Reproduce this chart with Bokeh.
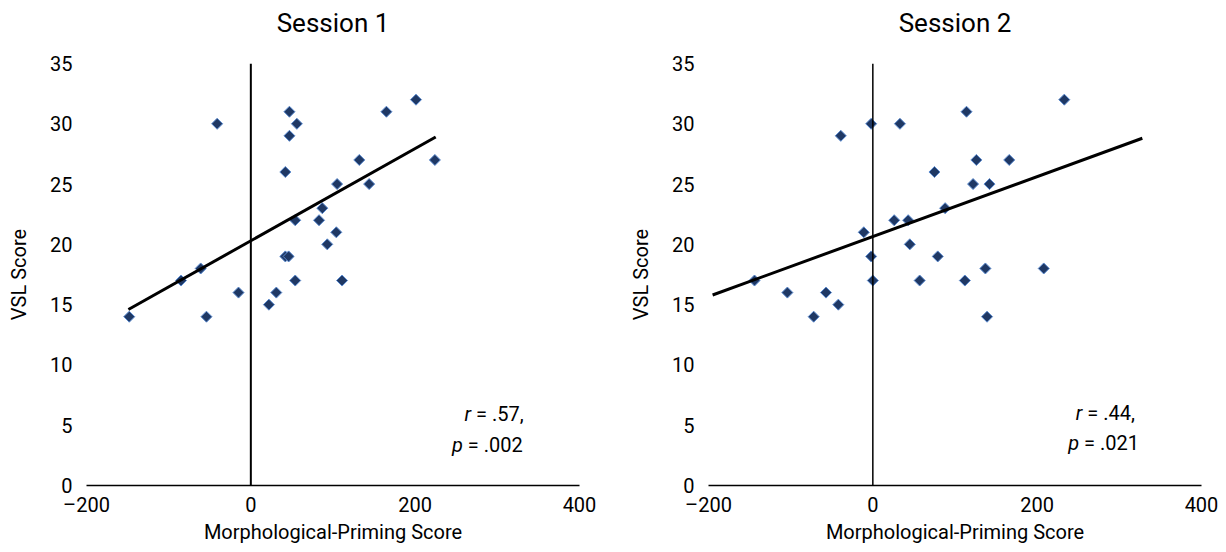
from bokeh.plotting import figure
from bokeh.layouts import row
from bokeh.models import Range1d, FixedTicker, Span, LinearAxis
from bokeh.core.properties import value
from bokeh.embed import file_html
from bokeh.resources import INLINE

FONT = "Roboto"

# Session 1 data
s1_x = [-148, -54, -85, -61, -41, -15, 22, 31, 42, 47, 56, 47, 54, 42, 46, 54, 83, 87, 93, 104, 105, 111, 132, 144, 165, 201, 224]
s1_y = [14, 14, 17, 18, 30, 16, 15, 16, 26, 31, 30, 29, 22, 19, 19, 17, 22, 23, 20, 21, 25, 17, 27, 25, 31, 32, 27]
s1_trend_x = [-149, 225]
s1_trend_y = [14.6, 28.9]
s1_stats = ("r", "\u00a0= .57,", "p", "\u00a0= .002")

# Session 2 data
s2_x = [-144, -104, -72, -57, -42, -39, -11, -2, -2, 0, 33, 26, 43, 45, 57, 75, 79, 88, 112, 114, 122, 126, 137, 139, 142, 166, 208, 233]
s2_y = [17, 16, 14, 16, 15, 29, 21, 30, 19, 17, 30, 22, 22, 20, 17, 26, 19, 23, 17, 31, 25, 27, 18, 14, 25, 27, 18, 32]
s2_trend_x = [-195, 328]
s2_trend_y = [15.8, 28.8]
s2_stats = ("r", "\u00a0= .44,", "p", "\u00a0= .021")

x_ticks = [-200, 0, 200, 400]
y_ticks = [0, 5, 10, 15, 20, 25, 30, 35]
x_tick_labels = {-200: "\u2013200", 0: "0", 200: "200", 400: "400"}


def make(title, xs, ys, tx, ty, stats, stat_pos, left_border, right_border, vline_w):
    p = figure(frame_width=493, frame_height=422, output_backend="svg", toolbar_location=None,
               x_range=Range1d(-200, 400), y_range=Range1d(0, 35),
               min_border_left=left_border, min_border_right=right_border,
               min_border_top=63, min_border_bottom=52)
    p.outline_line_color = None
    p.xgrid.grid_line_color = None
    p.ygrid.grid_line_color = None

    xa = p.xaxis[0]
    xa.ticker = FixedTicker(ticks=x_ticks)
    xa.major_label_overrides = x_tick_labels
    xa.major_tick_line_color = None
    xa.major_tick_out = 0
    xa.major_tick_in = 0
    xa.minor_tick_line_color = None
    xa.minor_tick_out = 0
    xa.axis_line_color = "black"
    xa.axis_line_width = 1.5
    xa.major_label_standoff = 7
    xa.major_label_text_font = FONT
    xa.major_label_text_font_size = "20px"
    xa.major_label_text_color = "black"
    xa.axis_label = "Morphological-Priming Score"
    xa.axis_label_text_font = FONT
    xa.axis_label_text_font_size = "20px"
    xa.axis_label_text_font_style = "normal"
    xa.axis_label_text_color = "black"
    xa.axis_label_standoff = 0

    ya = p.yaxis[0]
    ya.ticker = FixedTicker(ticks=y_ticks)
    ya.major_tick_line_color = None
    ya.major_tick_out = 0
    ya.major_tick_in = 0
    ya.minor_tick_line_color = None
    ya.minor_tick_out = 0
    ya.axis_line_color = None
    ya.major_label_standoff = 14
    ya.major_label_text_font = FONT
    ya.major_label_text_font_size = "20px"
    ya.major_label_text_color = "black"
    ya.axis_label = "VSL Score"
    ya.axis_label_text_font = FONT
    ya.axis_label_text_font_size = "20px"
    ya.axis_label_text_font_style = "normal"
    ya.axis_label_text_color = "black"
    ya.axis_label_standoff = 16

    # title drawn as the label of an empty axis above the frame
    ta = LinearAxis(ticker=FixedTicker(ticks=[]), axis_line_color=None,
                    major_tick_out=0, major_tick_in=0, minor_tick_out=0, minor_tick_in=0,
                    major_label_text_font_size="0px", major_label_standoff=0,
                    axis_label=title, axis_label_standoff=26,
                    axis_label_text_font=FONT, axis_label_text_font_size="26px",
                    axis_label_text_font_style="normal", axis_label_text_color="black")
    p.add_layout(ta, "above")

    p.add_layout(Span(location=0, dimension="height", line_color="black", line_width=vline_w))

    p.scatter(xs, ys, marker="square", angle=0.7854, size=7.8,
              fill_color="#1F3864", line_color="#5B8BD0", line_width=1)
    p.line(tx, ty, line_color="black", line_width=3)

    (rx, ry), (px, py) = stat_pos
    l1, r1, l2, r2 = stats
    common = dict(text_font=value(FONT), text_font_size="20px", text_baseline="middle", text_color="black")
    p.text(x=[rx], y=[ry], text=[l1], text_align="right", text_font_style="italic", **common)
    p.text(x=[rx], y=[ry], text=[r1], text_align="left", **common)
    p.text(x=[px], y=[py], text=[l2], text_align="right", text_font_style="italic", **common)
    p.text(x=[px], y=[py], text=[r2], text_align="left", **common)
    return p


p1 = make("Session 1", s1_x, s1_y, s1_trend_x, s1_trend_y, s1_stats,
          ((268, 5.9), (258, 3.4)), 86, 44, 2)
p2 = make("Session 2", s2_x, s2_y, s2_trend_x, s2_trend_y, s2_stats,
          ((255, 6.05), (251, 3.55)), 85, 17, 1.5)

layout = row(p1, p2, spacing=0)
open("out.html", "w").write(file_html(layout, INLINE))
